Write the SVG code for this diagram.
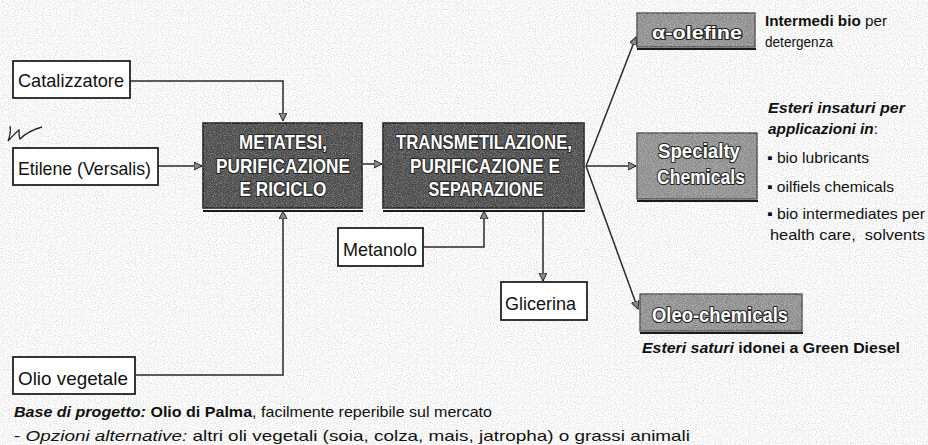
<svg xmlns="http://www.w3.org/2000/svg" width="928" height="445" viewBox="0 0 928 445">
<defs>
<filter id="noise" x="0" y="0" width="100%" height="100%">
<feTurbulence type="fractalNoise" baseFrequency="0.85" numOctaves="1" seed="3" result="t"/>
<feColorMatrix in="t" type="matrix" values="0 0 0 0 0  0 0 0 0 0  0 0 0 0 0  0 0 0 -2.2 1.25" />
</filter>
<filter id="boxnoise" x="0" y="0" width="100%" height="100%">
<feTurbulence type="fractalNoise" baseFrequency="1.1" numOctaves="1" seed="7" result="t"/>
<feColorMatrix in="t" type="matrix" values="0 0 0 0 1  0 0 0 0 1  0 0 0 0 1  0 0 0 -2.5 1.45" />
</filter>
<marker id="arr" markerUnits="userSpaceOnUse" markerWidth="10" markerHeight="10" refX="8" refY="4" orient="auto">
<path d="M0,0 L8,4 L0,8 z" fill="#8a8a8a" stroke="#222" stroke-width="1"/>
</marker>
<style>
.wbox{fill:#fff;stroke:#222;stroke-width:1.8}
.lbl{font-family:"Liberation Sans",Arial,sans-serif;font-size:19px;fill:#111}
.dark{fill:#4b4b4b;stroke:#1a1a1a;stroke-width:1.5}
.grey{fill:#8d8d8d;stroke:#3a3a3a;stroke-width:1.2}
.sh{stroke:#1a1a1a;stroke-width:2.2;fill:none}
.em{font-family:"Liberation Sans",Arial,sans-serif;font-weight:bold;fill:#fff;stroke:#222;stroke-width:2.2;paint-order:stroke;stroke-linejoin:round;text-anchor:middle}
.conn{fill:none;stroke:#2a2a2a;stroke-width:1.5}
.txt{font-family:"Liberation Sans",Arial,sans-serif;font-size:15px;fill:#111}
.b{font-weight:bold}
.i{font-style:italic}
</style>
</defs>
<rect x="0" y="0" width="928" height="445" fill="#fff"/>
<rect x="0" y="0" width="928" height="445" filter="url(#noise)" opacity="0.18"/>

<g id="connectors">
<path class="conn" d="M130,81 H283 V121" marker-end="url(#arr)"/>
<path class="conn" d="M158,166 H202" marker-end="url(#arr)"/>
<path class="conn" d="M136,375 H283 V211" marker-end="url(#arr)"/>
<path class="conn" d="M363,164 H382" marker-end="url(#arr)"/>
<path class="conn" d="M423,247 H484 V211" marker-end="url(#arr)"/>
<path class="conn" d="M543,210 V281" marker-end="url(#arr)"/>
<path class="conn" d="M586,166 L636,37" marker-end="url(#arr)"/>
<path class="conn" d="M586,166 H636" marker-end="url(#arr)"/>
<path class="conn" d="M586,166 L638,309" marker-end="url(#arr)"/>
</g>

<g id="catalizzatore">
<rect class="wbox" x="13" y="61" width="117" height="37"/>
<text class="lbl" x="18" y="87" textLength="106" lengthAdjust="spacingAndGlyphs">Catalizzatore</text>
</g>
<g id="etilene">
<rect class="wbox" x="13" y="148" width="145" height="37"/>
<text class="lbl" x="18" y="175" textLength="133" lengthAdjust="spacingAndGlyphs">Etilene (Versalis)</text>
</g>
<path id="scribble" d="M10,126 C11,131 10,136 8,141 C12,137 15,133 19,130 C19,134 19,137 20,139 C25,134 31,130 42,127" fill="none" stroke="#222" stroke-width="1.3"/>
<g id="olio">
<rect class="wbox" x="13" y="357" width="122" height="37"/>
<text class="lbl" x="18" y="385" textLength="110" lengthAdjust="spacingAndGlyphs">Olio vegetale</text>
</g>
<g id="metanolo">
<rect class="wbox" x="338" y="228" width="85" height="38"/>
<text class="lbl" x="343" y="256" textLength="74" lengthAdjust="spacingAndGlyphs">Metanolo</text>
</g>
<g id="glicerina">
<rect class="wbox" x="501" y="282" width="86" height="38"/>
<text class="lbl" x="505" y="310" textLength="71" lengthAdjust="spacingAndGlyphs">Glicerina</text>
</g>

<g id="metatesi">
<rect class="dark" x="203" y="123" width="159" height="85"/>
<rect x="203" y="123" width="159" height="85" filter="url(#boxnoise)" opacity="0.35"/>
<line class="sh" x1="203" y1="211" x2="363" y2="211"/>
<text class="em" x="283" y="149" font-size="20.5" textLength="88" lengthAdjust="spacingAndGlyphs">METATESI,</text>
<text class="em" x="283" y="173" font-size="20.5" textLength="134" lengthAdjust="spacingAndGlyphs">PURIFICAZIONE</text>
<text class="em" x="283" y="196" font-size="20.5" textLength="87" lengthAdjust="spacingAndGlyphs">E RICICLO</text>
</g>
<g id="transmetilazione">
<rect class="dark" x="383" y="123" width="201" height="85"/>
<rect x="383" y="123" width="201" height="85" filter="url(#boxnoise)" opacity="0.35"/>
<line class="sh" x1="383" y1="211" x2="585" y2="211"/>
<text class="em" x="484" y="149" font-size="20.5" textLength="176" lengthAdjust="spacingAndGlyphs">TRANSMETILAZIONE,</text>
<text class="em" x="485" y="173" font-size="20.5" textLength="150" lengthAdjust="spacingAndGlyphs">PURIFICAZIONE E</text>
<text class="em" x="486" y="196" font-size="20.5" textLength="115" lengthAdjust="spacingAndGlyphs">SEPARAZIONE</text>
</g>

<g id="olefine">
<rect class="grey" x="637" y="13" width="118" height="34"/>
<rect x="637" y="13" width="118" height="34" filter="url(#boxnoise)" opacity="0.4"/>
<line class="sh" x1="637" y1="49" x2="756" y2="49"/>
<text class="em" x="697" y="39" font-size="18" stroke-width="1.6" textLength="90" lengthAdjust="spacingAndGlyphs">α-olefine</text>
</g>
<g id="specialty">
<rect class="grey" x="637" y="133" width="120" height="66"/>
<rect x="637" y="133" width="120" height="66" filter="url(#boxnoise)" opacity="0.4"/>
<line class="sh" x1="637" y1="201" x2="758" y2="201"/>
<text class="em" x="699" y="158" font-size="20" stroke-width="1.6" textLength="82" lengthAdjust="spacingAndGlyphs">Specialty</text>
<text class="em" x="701" y="184" font-size="20" stroke-width="1.6" textLength="88" lengthAdjust="spacingAndGlyphs">Chemicals</text>
</g>
<g id="oleo">
<rect class="grey" x="640" y="294" width="162" height="37"/>
<rect x="640" y="294" width="162" height="37" filter="url(#boxnoise)" opacity="0.4"/>
<line class="sh" x1="640" y1="333" x2="803" y2="333"/>
<text class="em" x="720" y="322" font-size="20" stroke-width="1.6" textLength="136" lengthAdjust="spacingAndGlyphs">Oleo-chemicals</text>
</g>

<g id="notes">
<text class="txt" x="765" y="26" textLength="122" lengthAdjust="spacingAndGlyphs"><tspan class="b">Intermedi bio</tspan> per</text>
<text class="txt" x="765" y="47" textLength="68" lengthAdjust="spacingAndGlyphs">detergenza</text>
<text class="txt b i" x="768" y="113" textLength="137" lengthAdjust="spacingAndGlyphs">Esteri insaturi per</text>
<text class="txt" x="768" y="134" textLength="110" lengthAdjust="spacingAndGlyphs"><tspan class="b i">applicazioni in</tspan>:</text>
<text class="txt" x="767" y="163" textLength="102" lengthAdjust="spacingAndGlyphs">▪ bio lubricants</text>
<text class="txt" x="767" y="192" textLength="127" lengthAdjust="spacingAndGlyphs">▪ oilfiels chemicals</text>
<text class="txt" x="767" y="219" textLength="158" lengthAdjust="spacingAndGlyphs">▪ bio intermediates per</text>
<text class="txt" x="770" y="240" textLength="155" lengthAdjust="spacingAndGlyphs" xml:space="preserve">health care,  solvents</text>
<text class="txt b" x="642" y="353" font-size="16" textLength="258" lengthAdjust="spacingAndGlyphs"><tspan class="i">Esteri saturi</tspan> idonei a Green Diesel</text>
<text class="txt" x="14" y="417" textLength="478" lengthAdjust="spacingAndGlyphs"><tspan class="b i">Base di progetto:</tspan> <tspan class="b">Olio di Palma</tspan>, facilmente reperibile sul mercato</text>
<text class="txt" x="14" y="441" textLength="676" lengthAdjust="spacingAndGlyphs">- <tspan class="i">Opzioni alternative:</tspan> altri oli vegetali (soia, colza, mais, jatropha) o grassi animali</text>
</g>
</svg>
